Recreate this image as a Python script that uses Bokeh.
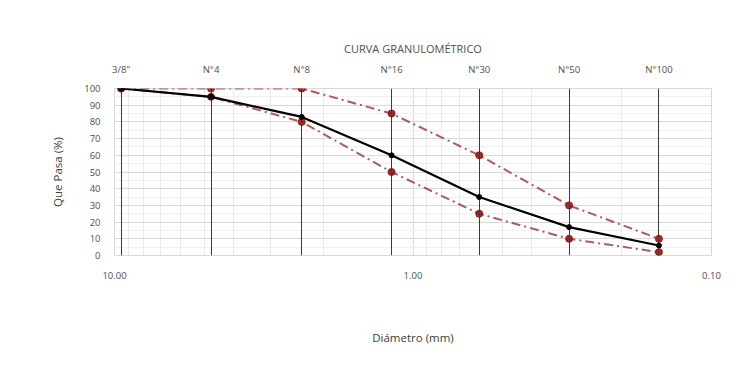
from bokeh.plotting import figure
from bokeh.models import (Range1d, LogAxis, FixedTicker, Grid, ColumnDataSource)
from bokeh.embed import file_html
from bokeh.resources import INLINE

# Data
sieve_names = ['3/8"', "N°4", "N°8", "N°16", "N°30", "N°50", "N°100"]
sieve_mm = [9.5, 4.75, 2.36, 1.18, 0.6, 0.3, 0.15]
muestra = [100, 95, 83, 60, 35, 17, 6]
lim_sup = [100, 100, 100, 85, 60, 30, 10]
lim_inf = [100, 95, 80, 50, 25, 10, 2]
bottom_ticks = [10, 1, 0.1]
bottom_labels = ["10.00", "1.00", "0.10"]
y_ticks = [0, 10, 20, 30, 40, 50, 60, 70, 80, 90, 100]

FONT = "Open Sans"
GRAY = "#505050"
RED = "#8E1A1A"
REDLINE = "#A04040"

src = ColumnDataSource(dict(x=sieve_mm, m=muestra, s=lim_sup, i=lim_inf))

p = figure(width=748, height=381, x_axis_type="log",
           x_range=Range1d(10, 0.1), y_range=Range1d(0, 100),
           output_backend="svg", toolbar_location=None,
           min_border_left=114, min_border_right=37,
           min_border_top=88, min_border_bottom=126,
           x_axis_location="below")

p.title.text = "CURVA GRANULOMÉTRICO"
p.title.align = "center"
p.title.text_font = FONT
p.title.text_font_style = "normal"
p.title.text_font_size = "11px"
p.title.text_color = GRAY
p.title.standoff = 8

p.outline_line_color = "#d9d9d9"
p.border_fill_color = "white"
p.background_fill_color = "white"

# bottom axis
minor = [v * d for d in (0.1, 1) for v in range(2, 10)]
p.xaxis.ticker = FixedTicker(ticks=bottom_ticks, minor_ticks=minor)
p.xaxis.major_label_overrides = {t: l for t, l in zip(bottom_ticks, bottom_labels)}
p.xaxis.axis_label = "Diámetro (mm)"
p.yaxis.axis_label = "Que Pasa (%)"
for ax in (p.xaxis[0], p.yaxis[0]):
    ax.axis_line_color = None
    ax.major_tick_line_color = None
    ax.minor_tick_line_color = None
    ax.major_label_text_font = FONT
    ax.major_label_text_font_size = "9.5px"
    ax.major_label_text_color = GRAY
    ax.axis_label_text_font = FONT
    ax.axis_label_text_font_size = "11.5px"
    ax.axis_label_text_font_style = "normal"
    ax.axis_label_text_color = "#404040"
p.xaxis.major_label_standoff = 10
p.xaxis.axis_label_standoff = 48
p.yaxis.major_label_standoff = 8
p.yaxis.axis_label_standoff = 16
p.yaxis.ticker = FixedTicker(ticks=y_ticks, minor_ticks=[v + 5 for v in y_ticks[:-1]])

# grids
p.xgrid.grid_line_color = "#d9d9d9"
p.xgrid.minor_grid_line_color = "#e8e8e8"
p.ygrid.grid_line_color = "#d9d9d9"
p.ygrid.minor_grid_line_color = "#f0f0f0"

# top axis with sieve names
top_ticker = FixedTicker(ticks=sieve_mm)
top = LogAxis(ticker=top_ticker,
              major_label_overrides={v: n for v, n in zip(sieve_mm, sieve_names)})
top.axis_line_color = None
top.major_tick_line_color = None
top.minor_tick_line_color = None
top.major_label_text_font = FONT
top.major_label_text_font_size = "9.5px"
top.major_label_text_color = GRAY
top.major_label_standoff = 7
p.add_layout(top, "above")

p.add_layout(Grid(dimension=0, ticker=top_ticker, grid_line_color="#3a3a3a",
                  grid_line_width=1))

# limits
for col in ("s", "i"):
    p.line("x", col, source=src, line_color=REDLINE, line_width=2,
           line_dash="9 4 2 4", line_alpha=0.85)
    p.scatter("x", col, source=src, size=7, fill_color=RED, line_color=RED,
              fill_alpha=0.9)

p.line("x", "m", source=src, line_color="black", line_width=2.2)
p.scatter("x", "m", source=src, size=5, fill_color="black", line_color="black")

open("out.html", "w").write(file_html(p, INLINE))
